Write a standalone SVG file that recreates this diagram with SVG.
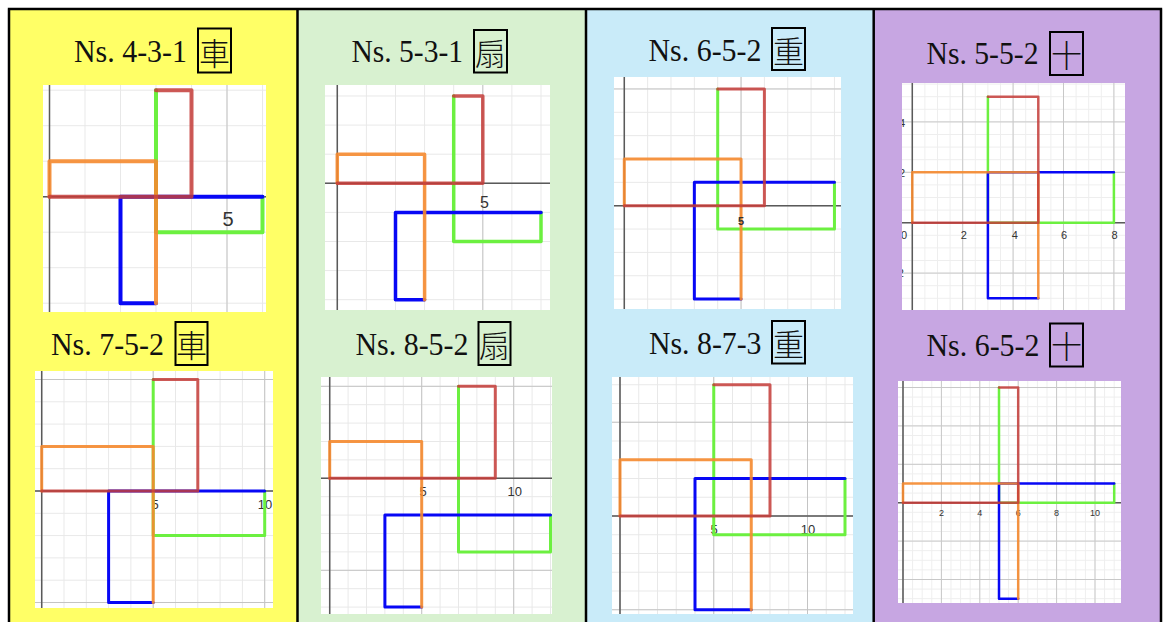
<svg xmlns="http://www.w3.org/2000/svg" width="1163" height="622" viewBox="0 0 1163 622">
<style>
.t{font-family:"Liberation Serif","Times New Roman",serif;font-size:31px;fill:#111}
.k{font-family:"Noto Sans CJK TC","Noto Sans CJK SC",sans-serif;font-size:31px;font-weight:300;fill:#111;text-anchor:middle}
.bx{fill:none;stroke:#000;stroke-width:2}
.ax{stroke:#5a5a5a;stroke-width:1.5;fill:none}
.lbl{font-family:"Liberation Sans",Arial,sans-serif;fill:#333;text-anchor:middle}
.sh polyline{fill:none;vector-effect:non-scaling-stroke;stroke-linejoin:round;stroke-linecap:round}
.gr{stroke:#6cf040}
.bl{stroke:#0808f5}
.or{stroke:#f5892f;stroke-opacity:.9}
.rd{stroke:#c43c38;stroke-opacity:.85}
.bd{stroke:#000;stroke-width:2.5;fill:none}
</style>
<defs>
<pattern id="m1" patternUnits="userSpaceOnUse" x="49" y="196.2" width="35.5" height="35.5"><path d="M0 0H35.5V1H1V35.5H0Z" fill="#e8e8e8"/></pattern>
<pattern id="M1" patternUnits="userSpaceOnUse" x="49" y="196.2" width="177.5" height="177.5"><path d="M0 0H177.5V1H1V177.5H0Z" fill="#c4c4c4"/></pattern>
<pattern id="m2" patternUnits="userSpaceOnUse" x="336.8" y="182.8" width="29.1" height="29.1"><path d="M0 0H29.1V1H1V29.1H0Z" fill="#e8e8e8"/></pattern>
<pattern id="M2" patternUnits="userSpaceOnUse" x="336.8" y="182.8" width="145.5" height="145.5"><path d="M0 0H145.5V1H1V145.5H0Z" fill="#c4c4c4"/></pattern>
<pattern id="m3" patternUnits="userSpaceOnUse" x="623.8" y="205.2" width="23.35" height="23.35"><path d="M0 0H23.35V1H1V23.35H0Z" fill="#e8e8e8"/></pattern>
<pattern id="M3" patternUnits="userSpaceOnUse" x="623.8" y="205.2" width="116.75" height="116.75"><path d="M0 0H116.75V1H1V116.75H0Z" fill="#c4c4c4"/></pattern>
<pattern id="m4" patternUnits="userSpaceOnUse" x="911.8" y="222.2" width="12.6" height="12.6"><path d="M0 0H12.6V1H1V12.6H0Z" fill="#eeeeee"/></pattern>
<pattern id="M4" patternUnits="userSpaceOnUse" x="911.8" y="222.2" width="50.4" height="50.4"><path d="M0 0H50.4V1H1V50.4H0Z" fill="#c8c8c8"/></pattern>
<pattern id="m5" patternUnits="userSpaceOnUse" x="41.2" y="490.5" width="22.3" height="22.3"><path d="M0 0H22.3V1H1V22.3H0Z" fill="#e8e8e8"/></pattern>
<pattern id="M5" patternUnits="userSpaceOnUse" x="41.2" y="490.5" width="111.5" height="111.5"><path d="M0 0H111.5V1H1V111.5H0Z" fill="#c4c4c4"/></pattern>
<pattern id="m6" patternUnits="userSpaceOnUse" x="329.2" y="477.8" width="18.4" height="18.4"><path d="M0 0H18.4V1H1V18.4H0Z" fill="#e8e8e8"/></pattern>
<pattern id="M6" patternUnits="userSpaceOnUse" x="329.2" y="477.8" width="92" height="92"><path d="M0 0H92V1H1V92H0Z" fill="#c4c4c4"/></pattern>
<pattern id="m7" patternUnits="userSpaceOnUse" x="619.5" y="515.5" width="18.75" height="18.75"><path d="M0 0H18.75V1H1V18.75H0Z" fill="#e8e8e8"/></pattern>
<pattern id="M7" patternUnits="userSpaceOnUse" x="619.5" y="515.5" width="93.75" height="93.75"><path d="M0 0H93.75V1H1V93.75H0Z" fill="#c4c4c4"/></pattern>
<pattern id="m8" patternUnits="userSpaceOnUse" x="902.5" y="502.2" width="9.6" height="9.6"><path d="M0 0H9.6V1H1V9.6H0Z" fill="#eeeeee"/></pattern>
<pattern id="M8" patternUnits="userSpaceOnUse" x="902.5" y="502.2" width="38.4" height="38.4"><path d="M0 0H38.4V1H1V38.4H0Z" fill="#c8c8c8"/></pattern>
<clipPath id="c1"><rect x="43" y="85" width="223" height="227"/></clipPath>
<clipPath id="c2"><rect x="325" y="85" width="225" height="225"/></clipPath>
<clipPath id="c3"><rect x="614" y="77" width="227" height="232"/></clipPath>
<clipPath id="c4"><rect x="902" y="83" width="223" height="227"/></clipPath>
<clipPath id="c5"><rect x="35" y="371" width="238" height="237"/></clipPath>
<clipPath id="c6"><rect x="321" y="377" width="231" height="237"/></clipPath>
<clipPath id="c7"><rect x="612" y="377" width="241" height="237"/></clipPath>
<clipPath id="c8"><rect x="898" y="381" width="223" height="222"/></clipPath>
</defs>

<g id="backgrounds">
<rect x="9" y="9" width="288.5" height="613" fill="#ffff66"/>
<rect x="297.5" y="9" width="288.5" height="613" fill="#d8f1d0"/>
<rect x="586" y="9" width="287.7" height="613" fill="#c9ebf9"/>
<rect x="873.7" y="9" width="287.3" height="613" fill="#c7a6e2"/>
</g>
<g id="borders">
<path class="bd" d="M7.8 9H1162.2M9 9V622M297.5 9V622M586 9V622M873.7 9V622M1161 9V622"/>
</g>

<g id="cell1">
<text class="t" x="74" y="62" textLength="113" lengthAdjust="spacingAndGlyphs">Ns. 4-3-1</text>
<rect class="bx" x="198" y="28.5" width="33" height="44"/>
<text class="k" x="214.5" y="64.5">車</text>
<g clip-path="url(#c1)">
<rect x="43" y="85" width="223" height="227" fill="#fff"/>
<rect x="43" y="85" width="223" height="227" fill="url(#m1)"/>
<rect x="43" y="85" width="223" height="227" fill="url(#M1)"/>
<path class="ax" d="M49.5 85V312M43 196.7H266"/>
<g class="sh" transform="translate(49.5 196.7) scale(35.5 -35.5)" style="stroke-width:4">
<polyline class="gr" points="6,0 6,-1 3,-1 3,3"/>
<polyline class="bl" points="3,-3 2,-3 2,0 6,0"/>
<polyline class="or" points="0,0 0,1 3,1 3,-3"/>
<polyline class="rd" points="0,0 4,0 4,3 3,3"/>
</g>
<text class="lbl" x="228" y="226" font-size="20">5</text>
</g>
</g>

<g id="cell2">
<text class="t" x="351.5" y="62" textLength="111.5" lengthAdjust="spacingAndGlyphs">Ns. 5-3-1</text>
<rect class="bx" x="474" y="30" width="33" height="42.5"/>
<text class="k" x="490.5" y="65">扇</text>
<g clip-path="url(#c2)">
<rect x="325" y="85" width="225" height="225" fill="#fff"/>
<rect x="325" y="85" width="225" height="225" fill="url(#m2)"/>
<rect x="325" y="85" width="225" height="225" fill="url(#M2)"/>
<path class="ax" d="M337.3 85V310M325 183.3H550"/>
<g class="sh" transform="translate(337.3 183.3) scale(29.1 -29.1)" style="stroke-width:3.5">
<polyline class="gr" points="4,3 4,-2 7,-2 7,-1"/>
<polyline class="bl" points="7,-1 2,-1 2,-4 3,-4"/>
<polyline class="or" points="0,0 0,1 3,1 3,-4"/>
<polyline class="rd" points="0,0 5,0 5,3 4,3"/>
</g>
<text class="lbl" x="484.5" y="207.5" font-size="16">5</text>
</g>
</g>

<g id="cell3">
<text class="t" x="648.5" y="61" textLength="113" lengthAdjust="spacingAndGlyphs">Ns. 6-5-2</text>
<rect class="bx" x="772" y="28" width="33" height="42"/>
<text class="k" x="788.5" y="62.5">重</text>
<g clip-path="url(#c3)">
<rect x="614" y="77" width="227" height="232" fill="#fff"/>
<rect x="614" y="77" width="227" height="232" fill="url(#m3)"/>
<rect x="614" y="77" width="227" height="232" fill="url(#M3)"/>
<path class="ax" d="M624.3 77V309M614 205.7H841"/>
<g class="sh" transform="translate(624.3 205.7) scale(23.35 -23.35)" style="stroke-width:3">
<polyline class="gr" points="4,5 4,-1 9,-1 9,1"/>
<polyline class="bl" points="9,1 3,1 3,-4 5,-4"/>
<polyline class="or" points="0,0 0,2 5,2 5,-4"/>
<polyline class="rd" points="0,0 6,0 6,5 4,5"/>
</g>
<text class="lbl" x="741" y="224.5" font-size="11" font-weight="bold" fill="#555">5</text>
</g>
</g>

<g id="cell4">
<text class="t" x="926.5" y="63.5" textLength="112" lengthAdjust="spacingAndGlyphs">Ns. 5-5-2</text>
<rect class="bx" x="1050" y="32" width="33" height="43"/>
<text class="k" x="1066.5" y="66.5">十</text>
<g clip-path="url(#c4)">
<rect x="902" y="83" width="223" height="227" fill="#fff"/>
<rect x="902" y="83" width="223" height="227" fill="url(#m4)"/>
<rect x="902" y="83" width="223" height="227" fill="url(#M4)"/>
<path class="ax" d="M912.3 83V310M902 222.7H1125"/>
<g class="sh" transform="translate(912.3 222.7) scale(25.2 -25.2)" style="stroke-width:2.5">
<polyline class="gr" points="3,5 3,0 8,0 8,2"/>
<polyline class="bl" points="8,2 3,2 3,-3 5,-3"/>
<polyline class="or" points="0,0 0,2 5,2 5,-3"/>
<polyline class="rd" points="0,0 5,0 5,5 3,5"/>
</g>
<g class="lbl" font-size="11" fill="#555">
<text x="904" y="239">0</text>
<text x="963.7" y="239">2</text>
<text x="1014.7" y="239">4</text>
<text x="1064" y="239">6</text>
<text x="1114.5" y="239">8</text>
<text x="902" y="126.5">4</text>
<text x="902" y="176.5">2</text>
<text x="899" y="277">-2</text>
</g>
</g>
</g>

<g id="cell5">
<text class="t" x="51" y="354.5" textLength="113" lengthAdjust="spacingAndGlyphs">Ns. 7-5-2</text>
<rect class="bx" x="175.5" y="322" width="32" height="43"/>
<text class="k" x="191.5" y="357">車</text>
<g clip-path="url(#c5)">
<rect x="35" y="371" width="238" height="237" fill="#fff"/>
<rect x="35" y="371" width="238" height="237" fill="url(#m5)"/>
<rect x="35" y="371" width="238" height="237" fill="url(#M5)"/>
<path class="ax" d="M41.7 371V608M35 491H273"/>
<text class="lbl" x="155" y="509" font-size="13">5</text>
<text class="lbl" x="265" y="509" font-size="13">10</text>
<g class="sh" transform="translate(41.7 491) scale(22.3 -22.3)" style="stroke-width:3">
<polyline class="gr" points="5,5 5,-2 10,-2 10,0"/>
<polyline class="bl" points="10,0 3,0 3,-5 5,-5"/>
<polyline class="or" points="0,0 0,2 5,2 5,-5"/>
<polyline class="rd" points="0,0 7,0 7,5 5,5"/>
</g>
</g>
</g>

<g id="cell6">
<text class="t" x="355.5" y="354.5" textLength="113" lengthAdjust="spacingAndGlyphs">Ns. 8-5-2</text>
<rect class="bx" x="478.5" y="322" width="32" height="43"/>
<text class="k" x="494.5" y="357">扇</text>
<g clip-path="url(#c6)">
<rect x="321" y="377" width="231" height="237" fill="#fff"/>
<rect x="321" y="377" width="231" height="237" fill="url(#m6)"/>
<rect x="321" y="377" width="231" height="237" fill="url(#M6)"/>
<path class="ax" d="M329.7 377V614M321 478.3H552"/>
<text class="lbl" x="423" y="496" font-size="13">5</text>
<text class="lbl" x="514.7" y="496" font-size="13">10</text>
<g class="sh" transform="translate(329.7 478.3) scale(18.4 -18.4)" style="stroke-width:3">
<polyline class="gr" points="7,5 7,-4 12,-4 12,-2"/>
<polyline class="bl" points="12,-2 3,-2 3,-7 5,-7"/>
<polyline class="or" points="0,0 0,2 5,2 5,-7"/>
<polyline class="rd" points="0,0 9,0 9,5 7,5"/>
</g>
</g>
</g>

<g id="cell7">
<text class="t" x="649" y="353.5" textLength="112.5" lengthAdjust="spacingAndGlyphs">Ns. 8-7-3</text>
<rect class="bx" x="772" y="321" width="33" height="42.5"/>
<text class="k" x="788.5" y="356">重</text>
<g clip-path="url(#c7)">
<rect x="612" y="377" width="241" height="237" fill="#fff"/>
<rect x="612" y="377" width="241" height="237" fill="url(#m7)"/>
<rect x="612" y="377" width="241" height="237" fill="url(#M7)"/>
<path class="ax" d="M620 377V614M612 516H853"/>
<text class="lbl" x="714" y="533.5" font-size="13">5</text>
<text class="lbl" x="808" y="533.5" font-size="13">10</text>
<g class="sh" transform="translate(620 516) scale(18.75 -18.75)" style="stroke-width:3">
<polyline class="gr" points="5,7 5,-1 12,-1 12,2"/>
<polyline class="bl" points="12,2 4,2 4,-5 7,-5"/>
<polyline class="or" points="0,0 0,3 7,3 7,-5"/>
<polyline class="rd" points="0,0 8,0 8,7 5,7"/>
</g>
</g>
</g>

<g id="cell8">
<text class="t" x="926.5" y="356" textLength="113" lengthAdjust="spacingAndGlyphs">Ns. 6-5-2</text>
<rect class="bx" x="1050" y="323.5" width="33" height="43"/>
<text class="k" x="1066.5" y="358">十</text>
<g clip-path="url(#c8)">
<rect x="898" y="381" width="223" height="222" fill="#fff"/>
<rect x="898" y="381" width="223" height="222" fill="url(#m8)"/>
<rect x="898" y="381" width="223" height="222" fill="url(#M8)"/>
<path class="ax" d="M903 381V603M898 502.7H1121"/>
<g class="lbl" font-size="9" fill="#555">
<text x="941.4" y="516">2</text>
<text x="979.8" y="516">4</text>
<text x="1018.2" y="516">6</text>
<text x="1056.6" y="516">8</text>
<text x="1095" y="516">10</text>
</g>
<g class="sh" transform="translate(903 502.7) scale(19.2 -19.2)" style="stroke-width:2.5">
<polyline class="gr" points="5,6 5,0 11,0 11,1"/>
<polyline class="bl" points="11,1 5,1 5,-5 6,-5"/>
<polyline class="or" points="0,0 0,1 6,1 6,-5"/>
<polyline class="rd" points="0,0 6,0 6,6 5,6"/>
</g>
</g>
</g>
</svg>
